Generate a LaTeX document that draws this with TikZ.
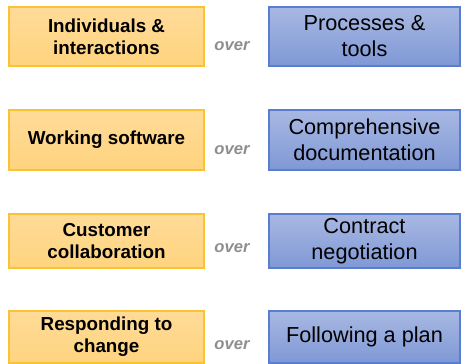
\documentclass[tikz,border=0pt]{standalone}
\usepackage{fontspec}
\setmainfont{Liberation Sans}
\definecolor{goldline}{HTML}{FBC233}
\definecolor{goldtop}{HTML}{FFDB99}
\definecolor{goldbot}{HTML}{FFD47E}
\definecolor{blueline}{HTML}{5A7ECF}
\definecolor{bluetop}{HTML}{A8B8E3}
\definecolor{bluebot}{HTML}{7F98D5}
\definecolor{overgray}{HTML}{8E8E8E}
\begin{document}
\begin{tikzpicture}[x=1pt,y=-1pt,
    value/.style={draw=goldline, line width=1.2pt, top color=goldtop, bottom color=goldbot,
      minimum width=195pt, inner sep=0pt, align=center,
      font=\fontsize{18.8}{22}\selectfont\bfseries},
    lesser/.style={draw=blueline, line width=1.2pt, top color=bluetop, bottom color=bluebot,
      minimum width=191pt, inner sep=0pt, align=center,
      font=\fontsize{21.7}{26}\selectfont},
    overword/.style={text=overgray, inner sep=0pt,
      font=\fontsize{16.6}{18}\selectfont\bfseries\itshape}]
  \useasboundingbox (0,0) rectangle (461,364);
  \draw
    (106.5,36.5) node[value, minimum height=59pt] (v1) {Individuals \&\\interactions}
    (106.5,140) node[value, minimum height=60pt] (v2) {Working software}
    (106.5,241) node[value, minimum height=54pt] (v3) {Customer\\collaboration}
    (106.5,337) node[value, minimum height=52pt] (v4) {Responding to\\change};
  \draw
    (364.5,36.5) node[lesser, minimum height=59pt] (w1) {Processes \&\\tools}
    (364.5,140) node[lesser, minimum height=60pt] (w2) {Comprehensive\\documentation}
    (364.5,241) node[lesser, minimum height=54pt] (w3) {Contract\\negotiation}
    (364.5,337) node[lesser, minimum height=52pt] (w4) {Following a plan};
  \draw
    (232,46) node[overword] (o1) {over}
    (232,150) node[overword] (o2) {over}
    (232,248) node[overword] (o3) {over}
    (232,345) node[overword] (o4) {over};
\end{tikzpicture}
\end{document}
